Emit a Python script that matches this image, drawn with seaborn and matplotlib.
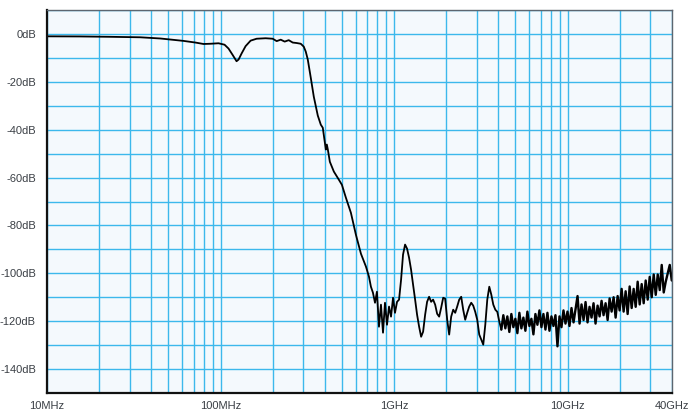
import numpy as np
import pandas as pd
import matplotlib
matplotlib.use("Agg")
import matplotlib.pyplot as plt
from matplotlib.ticker import FixedLocator, NullFormatter
import seaborn as sns

# passband + roll-off (GHz, dB)
smooth_ghz = [0.0100, 0.0155, 0.0231, 0.0345, 0.0450, 0.0611, 0.0717, 0.0798, 0.0875,
              0.0974, 0.1055, 0.1112, 0.1173, 0.1237, 0.1271, 0.1322, 0.1395, 0.1491,
              0.1615, 0.1820, 0.1998, 0.2107, 0.2223, 0.2344, 0.2472, 0.2608, 0.2750,
              0.2900, 0.3018, 0.3100, 0.3184, 0.3313, 0.3448, 0.3636, 0.3784, 0.3886,
              0.4045, 0.4100, 0.4155, 0.4267, 0.4500, 0.4810, 0.5006, 0.5279, 0.5642,
              0.6031, 0.6446, 0.6890, 0.7171]
smooth_db = [-1.0, -1.05, -1.2, -1.4, -1.9, -2.9, -3.6, -4.2, -4.1,
             -3.9, -4.5, -6.1, -8.7, -11.4, -10.7, -8.2, -5.1, -2.8,
             -2.0, -1.8, -2.0, -3.0, -2.4, -3.2, -2.6, -3.6, -3.8,
             -4.1, -5.3, -7.4, -10.7, -18.3, -26.2, -34.1, -37.9, -39.2,
             -48.3, -46.2, -48.3, -53.4, -57.5, -60.9, -63.0, -68.4, -74.7,
             -83.9, -91.8, -97.2, -101.4]

# stopband ripple (GHz, dB)
stop_ghz = [0.736, 0.756, 0.777, 0.797, 0.819, 0.841, 0.864, 0.887, 0.911, 0.936,
            0.961, 0.987, 1.013, 1.041, 1.069, 1.098, 1.127, 1.158, 1.189, 1.221,
            1.254, 1.288, 1.323, 1.358, 1.395, 1.433, 1.471, 1.511, 1.551, 1.593,
            1.636, 1.680, 1.726, 1.772, 1.820, 1.869, 1.920, 1.971, 2.025, 2.079,
            2.135, 2.193, 2.252, 2.312, 2.375, 2.439, 2.504, 2.572, 2.641, 2.712,
            2.786, 2.861, 2.938, 3.017, 3.099, 3.183, 3.268, 3.357, 3.447, 3.540,
            3.636, 3.734, 3.835, 3.938, 4.045, 4.154]
stop_db = [-105.6, -108.1, -112.3, -107.7, -122.3, -113.1, -124.8, -112.3, -121.5, -113.9,
           -118.1, -110.2, -116.5, -111.9, -111.0, -102.7, -92.2, -88.0, -89.7, -93.5,
           -98.5, -104.8, -111.0, -117.3, -122.3, -126.5, -124.4, -117.3, -111.9, -109.8,
           -111.9, -111.0, -113.1, -116.9, -118.1, -114.4, -110.2, -110.6, -119.4, -125.6,
           -118.1, -115.2, -116.5, -113.9, -111.0, -109.8, -115.2, -119.4, -116.5, -113.9,
           -112.3, -113.5, -116.1, -119.4, -125.6, -127.7, -129.8, -121.5, -111.0, -105.6,
           -108.9, -113.1, -115.2, -116.1, -120.2, -123.5]

# noise floor up to 40 GHz (GHz, dB)
floor_ghz = [4.266, 4.381, 4.499, 4.620, 4.745, 4.873, 5.004, 5.139, 5.278, 5.420,
             5.566, 5.716, 5.870, 6.028, 6.191, 6.358, 6.529, 6.705, 6.886, 7.072,
             7.262, 7.458, 7.659, 7.866, 8.078, 8.296, 8.519, 8.749, 8.985, 9.227,
             9.476, 9.732, 9.994, 10.26, 10.54, 10.83, 11.12, 11.42, 11.73, 12.04,
             12.37, 12.70, 13.04, 13.39, 13.75, 14.12, 14.50, 14.90, 15.30, 15.71,
             16.13, 16.57, 17.02, 17.48, 17.95, 18.43, 18.93, 19.44, 19.96, 20.50,
             21.05, 21.62, 22.20, 22.80, 23.42, 24.05, 24.70, 25.36, 26.05, 26.75,
             27.47, 28.21, 28.97, 29.75, 30.56, 31.38, 32.23, 33.10, 33.99, 34.90,
             35.84, 36.81, 37.80, 38.82, 39.87]
floor_db = [-117.5, -123.0, -118.0, -124.5, -117.0, -122.5, -119.0, -125.0, -116.5, -123.0,
            -118.5, -124.0, -116.0, -122.0, -119.0, -125.5, -117.0, -121.5, -115.5, -122.5,
            -117.0, -123.5, -116.5, -124.0, -118.0, -122.0, -117.5, -130.5, -118.0, -122.5,
            -115.5, -121.0, -116.0, -122.0, -114.5, -120.5, -115.0, -109.5, -121.0, -113.0,
            -119.5, -112.0, -120.5, -114.0, -118.5, -112.5, -121.0, -113.5, -118.0, -111.5,
            -117.5, -112.5, -119.5, -110.5, -116.0, -110.0, -118.5, -109.5, -115.5, -106.5,
            -116.0, -107.5, -117.0, -105.5, -114.5, -106.5, -114.0, -103.5, -113.0, -104.5,
            -112.5, -103.0, -111.0, -101.5, -110.0, -100.5, -109.0, -100.5, -107.0, -96.5,
            -108.0, -103.5, -100.0, -96.5, -103.0]

x_labels = {0.01: "10MHz", 0.1: "100MHz", 1: "1GHz", 10: "10GHz", 40: "40GHz"}
y_labels = [0, -20, -40, -60, -80, -100, -120, -140]

main_df = pd.DataFrame({"freq": smooth_ghz + stop_ghz, "level": smooth_db + stop_db})
floor_df = pd.DataFrame({"freq": stop_ghz[-1:] + floor_ghz, "level": stop_db[-1:] + floor_db})

sns.set_style("white")
plt.rcParams["font.family"] = ["Liberation Sans", "DejaVu Sans"]

fig = plt.figure(figsize=(6.96, 4.13), dpi=100)
ax = fig.add_axes([47 / 696, 20 / 413, 625 / 696, 383 / 413])
ax.set_facecolor("#f4f9fd")
ax.set_xscale("log")

sns.lineplot(data=main_df, x="freq", y="level", ax=ax, color="black", linewidth=1.3,
             sort=False, estimator=None)
sns.lineplot(data=floor_df, x="freq", y="level", ax=ax, color="black", linewidth=1.7,
             sort=False, estimator=None)

ax.set_xlim(0.01, 40)
ax.set_ylim(-150, 10)

minor_x = []
for dec in [0.01, 0.1, 1, 10]:
    for m in range(2, 10):
        if dec * m < 40:
            minor_x.append(dec * m)
ax.xaxis.set_major_locator(FixedLocator(list(x_labels.keys())))
ax.set_xticklabels(list(x_labels.values()))
ax.xaxis.set_minor_locator(FixedLocator(minor_x))
ax.xaxis.set_minor_formatter(NullFormatter())

ax.set_yticks(y_labels)
ax.set_yticklabels([f"{v}dB" for v in y_labels])
ax.yaxis.set_minor_locator(FixedLocator(list(range(-150, 11, 10))))

ax.grid(True, which="both", color="#3cb8ec", linewidth=1.0)
ax.set_axisbelow(True)
ax.tick_params(which="both", length=0, labelsize=8, labelcolor="#3a3f45")
ax.tick_params(axis="x", pad=6)
ax.tick_params(axis="y", pad=8)
ax.set_xlabel("")
ax.set_ylabel("")

for side in ["left", "bottom"]:
    ax.spines[side].set_color("#111111")
    ax.spines[side].set_linewidth(1.6)
for side in ["top", "right"]:
    ax.spines[side].set_color("#5c6670")
    ax.spines[side].set_linewidth(1.0)

fig.savefig("out.png", dpi=100)
